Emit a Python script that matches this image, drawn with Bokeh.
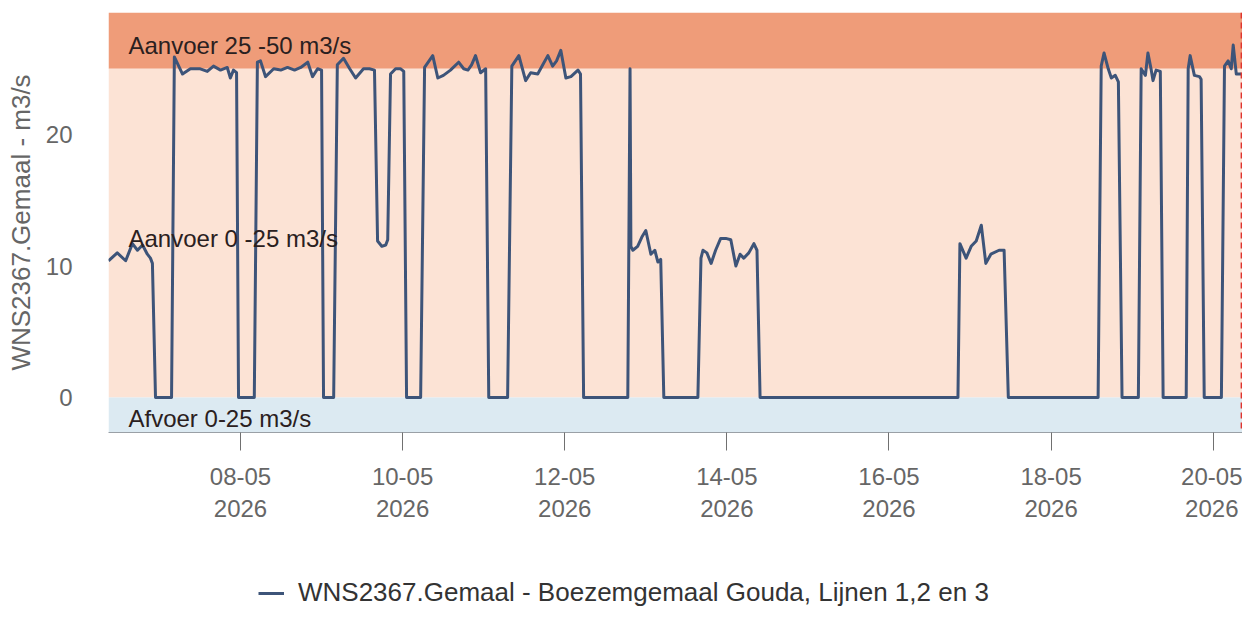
import pandas as pd
from bokeh.plotting import figure
from bokeh.layouts import column
from bokeh.models import (BoxAnnotation, Label, Span, Range1d, DatetimeTickFormatter,
                          DaysTicker, FixedTicker, Legend, LegendItem, ColumnDataSource)
from bokeh.embed import file_html
from bokeh.resources import INLINE

# ---- data ----
times = [
    "2026-05-06 08:55", "2026-05-06 11:30", "2026-05-06 14:00", "2026-05-06 16:00",
    "2026-05-06 17:30", "2026-05-06 19:00", "2026-05-06 20:25", "2026-05-06 21:20",
    "2026-05-06 21:55", "2026-05-06 22:50", "2026-05-07 03:35", "2026-05-07 04:25",
    "2026-05-07 06:50", "2026-05-07 09:10", "2026-05-07 12:05", "2026-05-07 14:10",
    "2026-05-07 16:00", "2026-05-07 18:05", "2026-05-07 20:05", "2026-05-07 21:00",
    "2026-05-07 21:55", "2026-05-07 22:50", "2026-05-07 23:25", "2026-05-08 04:05",
    "2026-05-08 05:00", "2026-05-08 05:55", "2026-05-08 07:25", "2026-05-08 09:50",
    "2026-05-08 11:55", "2026-05-08 13:55", "2026-05-08 16:00", "2026-05-08 17:50",
    "2026-05-08 19:55", "2026-05-08 21:20", "2026-05-08 22:50", "2026-05-09 00:00",
    "2026-05-09 00:35", "2026-05-09 03:35", "2026-05-09 04:40", "2026-05-09 06:30",
    "2026-05-09 08:20", "2026-05-09 10:05", "2026-05-09 12:25", "2026-05-09 14:10",
    "2026-05-09 15:40", "2026-05-09 16:35", "2026-05-09 17:50", "2026-05-09 19:00",
    "2026-05-09 19:35", "2026-05-09 20:25", "2026-05-09 21:55", "2026-05-09 23:25",
    "2026-05-10 00:20", "2026-05-10 01:10", "2026-05-10 05:20", "2026-05-10 06:30",
    "2026-05-10 08:55", "2026-05-10 10:25", "2026-05-10 12:05", "2026-05-10 14:10",
    "2026-05-10 16:35", "2026-05-10 18:05", "2026-05-10 19:20", "2026-05-10 20:25",
    "2026-05-10 21:35", "2026-05-10 23:05", "2026-05-11 00:35", "2026-05-11 01:30",
    "2026-05-11 07:05", "2026-05-11 08:20", "2026-05-11 10:25", "2026-05-11 12:25",
    "2026-05-11 13:55", "2026-05-11 16:00", "2026-05-11 17:30", "2026-05-11 19:00",
    "2026-05-11 20:25", "2026-05-11 21:35", "2026-05-11 22:50", "2026-05-12 00:20",
    "2026-05-12 01:50", "2026-05-12 03:55", "2026-05-12 04:40", "2026-05-12 05:35",
    "2026-05-12 18:40", "2026-05-12 19:20", "2026-05-12 19:35", "2026-05-12 20:10",
    "2026-05-12 21:35", "2026-05-12 22:50", "2026-05-13 00:00", "2026-05-13 01:30",
    "2026-05-13 02:40", "2026-05-13 03:35", "2026-05-13 04:25", "2026-05-13 05:20",
    "2026-05-13 15:25", "2026-05-13 16:20", "2026-05-13 16:55", "2026-05-13 18:05",
    "2026-05-13 19:20", "2026-05-13 20:40", "2026-05-13 22:10", "2026-05-13 23:40",
    "2026-05-14 01:10", "2026-05-14 02:40", "2026-05-14 03:55", "2026-05-14 05:00",
    "2026-05-14 06:30", "2026-05-14 08:00", "2026-05-14 08:55", "2026-05-14 09:50",
    "2026-05-16 20:25", "2026-05-16 21:00", "2026-05-16 22:50", "2026-05-17 00:20",
    "2026-05-17 01:50", "2026-05-17 03:20", "2026-05-17 04:40", "2026-05-17 06:10",
    "2026-05-17 08:35", "2026-05-17 10:05", "2026-05-17 11:20", "2026-05-18 13:55",
    "2026-05-18 14:50", "2026-05-18 15:40", "2026-05-18 16:55", "2026-05-18 17:50",
    "2026-05-18 19:00", "2026-05-18 19:55", "2026-05-18 21:00", "2026-05-19 01:50",
    "2026-05-19 02:40", "2026-05-19 03:55", "2026-05-19 04:40", "2026-05-19 05:35",
    "2026-05-19 06:10", "2026-05-19 07:05", "2026-05-19 08:20", "2026-05-19 09:10",
    "2026-05-19 16:00", "2026-05-19 16:35", "2026-05-19 17:10", "2026-05-19 18:25",
    "2026-05-19 19:55", "2026-05-19 20:25", "2026-05-19 21:20", "2026-05-20 02:25",
    "2026-05-20 03:20", "2026-05-20 04:25", "2026-05-20 05:20", "2026-05-20 05:55",
    "2026-05-20 06:50", "2026-05-20 08:20",
]
flow = [
    10.4, 11.0, 10.4, 11.7,
    11.2, 11.6, 10.9, 10.6,
    10.2, 0.0, 0.0, 25.9,
    24.6, 25.0, 25.0, 24.8,
    25.2, 24.9, 25.1, 24.3,
    24.9, 24.7, 0.0, 0.0,
    25.5, 25.6, 24.4, 25.0,
    24.9, 25.1, 24.9, 25.1,
    25.5, 24.4, 25.0, 24.9,
    0.0, 0.0, 25.3, 25.8,
    25.0, 24.3, 25.0, 25.0,
    24.9, 11.9, 11.5, 11.6,
    12.0, 24.6, 25.0, 25.0,
    24.8, 0.0, 0.0, 25.1,
    26.0, 24.3, 24.5, 24.9,
    25.5, 25.0, 24.9, 25.3,
    26.0, 24.7, 25.0, 0.0,
    0.0, 25.2, 26.0, 24.1,
    24.7, 24.6, 25.3, 26.0,
    25.2, 25.6, 26.4, 24.3,
    24.4, 24.9, 24.6, 0.0,
    0.0, 25.0, 11.5, 11.2,
    11.5, 12.2, 12.7, 10.9,
    11.2, 10.3, 10.5, 0.0,
    0.0, 10.6, 11.2, 11.0,
    10.2, 11.2, 12.1, 12.1,
    12.0, 10.0, 10.9, 10.6,
    11.0, 11.7, 11.2, 0.0,
    0.0, 11.7, 10.6, 11.5,
    11.9, 13.1, 10.2, 10.9,
    11.2, 11.2, 0.0, 0.0,
    25.2, 26.2, 25.0, 24.3,
    24.5, 24.0, 0.0, 0.0,
    25.0, 24.5, 26.2, 25.0,
    24.1, 24.9, 24.8, 0.0,
    0.0, 25.0, 26.0, 24.5,
    24.4, 24.2, 0.0, 0.0,
    25.2, 25.6, 25.0, 26.8,
    24.6, 24.6,
]

series_name = "WNS2367.Gemaal - Boezemgemaal Gouda, Lijnen 1,2 en 3"
y_title = "WNS2367.Gemaal - m3/s"
band_labels = ["Aanvoer 25 -50 m3/s", "Aanvoer 0 -25 m3/s", "Afvoer 0-25 m3/s"]
band_edges = [25, 0]
band_label_y = [26.8, 12.1, -1.6]
y_ticks = [0, 10, 20]
x_start = "2026-05-06 08:55"
x_end = "2026-05-20 08:40"
now_time = "2026-05-20 08:20"

FONT = "Liberation Sans"
LINE_COLOR = "#3D5479"

t = pd.to_datetime(times)
src = ColumnDataSource(data=dict(t=t, v=flow))

p = figure(width=1242, height=532, x_axis_type="datetime",
           x_range=Range1d(pd.Timestamp(x_start).to_pydatetime(), pd.Timestamp(x_end).to_pydatetime()),
           y_range=Range1d(-2.66, 29.28),
           output_backend="svg", toolbar_location=None,
           min_border_left=108, min_border_right=0, min_border_top=12, min_border_bottom=100)
p.outline_line_color = None
p.grid.grid_line_color = None
p.background_fill_color = "white"

# bands
p.add_layout(BoxAnnotation(bottom=band_edges[0], fill_color="#EF9C79", fill_alpha=1,
                           line_alpha=0, level="underlay"))
p.add_layout(BoxAnnotation(bottom=band_edges[1], top=band_edges[0], fill_color="#FCE3D5",
                           fill_alpha=1, line_alpha=0, level="underlay"))
p.add_layout(BoxAnnotation(top=band_edges[1], fill_color="#DCEAF2", fill_alpha=1,
                           line_alpha=0, level="underlay"))

for txt, yy in zip(band_labels, band_label_y):
    p.add_layout(Label(x=20, x_units="screen", y=yy, text=txt, text_font=FONT,
                       text_font_size="24px", text_color="#2a2020", text_baseline="middle"))

r = p.line(x="t", y="v", source=src, line_color=LINE_COLOR, line_width=3, line_join="round")

p.add_layout(Span(location=pd.Timestamp(now_time).to_pydatetime(), dimension="height",
                  line_color="#E0342E", line_dash="6 4", line_width=1.5))

# x axis
xa = p.xaxis[0]
xa.ticker = DaysTicker(days=list(range(2, 32, 2)))
fmt = "%d-%m\n%Y"
xa.formatter = DatetimeTickFormatter(days=fmt, months=fmt, hours=fmt, years=fmt)
xa.major_label_text_font = FONT
xa.major_label_text_font_size = "24px"
xa.major_label_text_color = "#666666"
xa.axis_line_color = "#9aa0a6"
xa.major_tick_line_color = "#707070"
xa.major_tick_out = 18
xa.major_tick_in = 0
xa.minor_tick_line_color = None
xa.major_label_standoff = 12

# y axis
ya = p.yaxis[0]
ya.ticker = FixedTicker(ticks=y_ticks)
ya.axis_line_color = None
ya.major_tick_line_color = None
ya.minor_tick_line_color = None
ya.major_label_standoff = 30
ya.major_label_text_font = FONT
ya.major_label_text_font_size = "24px"
ya.major_label_text_color = "#666666"
ya.axis_label = y_title
ya.axis_label_text_font = FONT
ya.axis_label_text_font_size = "26px"
ya.axis_label_text_font_style = "normal"
ya.axis_label_text_color = "#666666"
ya.axis_label_standoff = 7

# legend strip below the chart (its line sits far outside the strip's own ranges)
lg = figure(width=1242, height=88, x_range=Range1d(0, 1), y_range=Range1d(0, 1),
            output_backend="svg", toolbar_location=None, min_border=0,
            x_axis_location=None, y_axis_location=None)
lg.outline_line_color = None
lg.grid.grid_line_color = None
lr = lg.line(x="t", y="v", source=src, line_color=LINE_COLOR, line_width=3)
legend = Legend(items=[LegendItem(label=series_name, renderers=[lr])],
                location=(150, 12), orientation="horizontal",
                border_line_alpha=0, background_fill_alpha=0,
                label_text_font=FONT, label_text_font_size="26px", label_text_color="#333333",
                glyph_width=26, glyph_height=20, padding=0, margin=0, label_standoff=14)
lg.add_layout(legend, "center")

layout = column(p, lg, spacing=0)
open("out.html", "w").write(file_html(layout, INLINE))
